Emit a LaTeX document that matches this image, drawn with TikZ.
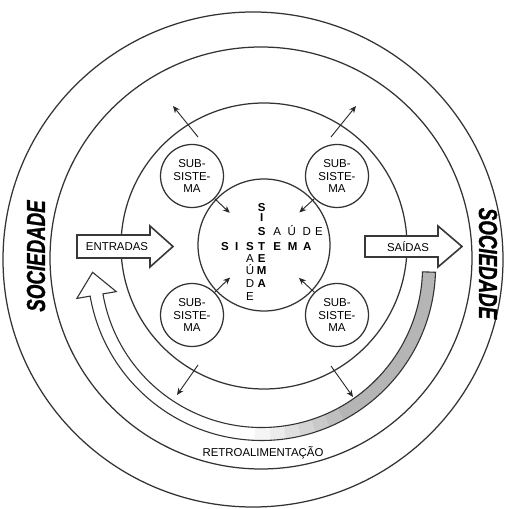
\documentclass[tikz,border=0pt]{standalone}
\usepackage{fontspec}
\usepackage{graphicx}
\setmainfont{Liberation Sans}
\newfontfamily\socfont[BoldItalicFeatures={FakeBold=1.2}]{Liberation Sans}
\usetikzlibrary{arrows.meta,calc}
\begin{document}
\begin{tikzpicture}[x=1pt,y=1pt,
  ring/.style={draw=black!80, line width=1.25pt},
  sub/.style={circle, draw=black!80, line width=1.25pt, fill=white, minimum size=63pt, inner sep=0pt, align=center, font=\fontsize{11.5}{12.5}\selectfont},
  core/.style={circle, draw=black!80, line width=1.25pt, minimum size=132pt, inner sep=0pt},
  arr/.style={draw=black!85, line width=0.9pt, -{Stealth[length=7pt,width=6pt]}},
  big/.style={draw=black!78, line width=1.6pt, fill=white, line join=miter},
  band/.style={draw=black!80, line width=1.1pt, line join=miter},
  lbl/.style={font=\fontsize{11.4}{13}\selectfont, inner sep=0pt},
  bl/.style={font=\fontsize{11.5}{12}\selectfont\bfseries, inner sep=0pt, text height=8.3pt, text depth=0pt},
  rl/.style={font=\fontsize{11.5}{12}\selectfont, inner sep=0pt, text height=8.3pt, text depth=0pt},
  soc/.style={inner sep=0pt, font=\fontsize{26}{26}\socfont\bfseries\itshape}
]
\useasboundingbox (0,0) rectangle (507,509);
\fill[white] (0,0) rectangle (507,509);

% rings
\draw[ring] (253,249.5) ellipse [x radius=250, y radius=247.5];
\draw[ring] (261,251) circle [radius=211];
\draw[ring] (264,263) circle [radius=143];

% feedback band
\begin{scope}[shift={(261.6,242.5)}]
  \fill[gray!58] (-1.9:161) arc[start angle=-1.9,end angle=-62,radius=161] -- (-62:174) arc[start angle=-62,end angle=-1.9,radius=174] -- cycle;
  \foreach \angA/\gv in {-62/50,-67/42,-72/34,-77/25,-82/16,-87/8}{
    \pgfmathsetmacro\angB{\angA-5.4}
    \fill[gray!\gv] (\angA:161) arc[start angle=\angA,end angle=\angB,radius=161] -- (\angB:174) arc[start angle=\angB,end angle=\angA,radius=174] -- cycle;
  }
  \draw[band] (-1.9:174) arc[start angle=-1.9,end angle=-170.2,radius=174]
     -- (-170.2:187.5) -- (-169,-5.8) -- (-170.2:147.5) -- (-170.2:161)
     arc[start angle=-170.2,end angle=-1.9,radius=161] -- cycle;
\end{scope}
\node[lbl] (retro) at (263,56) {RETROALIMENTAÇÃO};

% core system
\node[core] (sys) at (264,264) {};

% subsystems
\node[sub] (s1) at (192,333) {SUB-\\SISTE-\\MA};
\node[sub] (s2) at (337,333) {SUB-\\SISTE-\\MA};
\node[sub] (s3) at (192,194) {SUB-\\SISTE-\\MA};
\node[sub] (s4) at (337,194) {SUB-\\SISTE-\\MA};

% inner arrows
\draw[arr, shorten >=47pt] (s1.-45) -- (sys.center);
\draw[arr, shorten >=48pt] (s2.-135) -- (sys.center);
\draw[arr, shorten >=47pt] (s3.45) -- (sys.center);
\draw[arr, shorten >=48pt] (s4.135) -- (sys.center);

% outer arrows
\coordinate (o1a) at (198,372); \coordinate (o1b) at (173,403);
\coordinate (o2a) at (331,372); \coordinate (o2b) at (356,403);
\coordinate (o3a) at (198,144); \coordinate (o3b) at (177,114);
\coordinate (o4a) at (331,143); \coordinate (o4b) at (353,112);
\draw[arr] (o1a) -- (o1b);
\draw[arr] (o2a) -- (o2b);
\draw[arr] (o3a) -- (o3b);
\draw[arr] (o4a) -- (o4b);

% input / output arrows
\draw[big] (77,251) -- (150,251) -- (150,242) -- (173,262.5) -- (150,283) -- (150,274) -- (77,274) -- cycle;
\node[lbl] (entradas) at (117,262.5) {ENTRADAS};
\draw[big] (365,252) -- (438,252) -- (438,242) -- (462,262.5) -- (438,283) -- (438,273) -- (365,273) -- cycle;
\node[lbl] (saidas) at (408,262.5) {SAÍDAS};

% SISTEMA / SAUDE letters
\node[bl] (h1) at (225,263) {S};
\node[bl] (h2) at (236.7,263) {I};
\node[bl] (h3) at (250,263) {S};
\node[bl] (h4) at (261.7,263) {T};
\node[bl] (h5) at (277.3,263) {E};
\node[bl] (h6) at (292.7,263) {M};
\node[bl] (h7) at (307.3,263) {A};
\node[bl] (v1) at (261.7,301.7) {S};
\node[bl] (v2) at (261.7,291.7) {I};
\node[bl] (v3) at (261.7,277.3) {S};
\node[bl] (v5) at (261.7,250.7) {E};
\node[bl] (v6) at (261.7,239) {M};
\node[bl] (v7) at (261.7,225.7) {A};
\node[rl] (sa2) at (277.3,277.3) {A};
\node[rl] (sa3) at (291.7,277.3) {Ú};
\node[rl] (sa4) at (306.7,277.3) {D};
\node[rl] (sa5) at (319,277.3) {E};
\node[rl] (sv2) at (250,250.7) {A};
\node[rl] (sv3) at (250,239) {Ú};
\node[rl] (sv4) at (250,225.7) {D};
\node[rl] (sv5) at (250,213) {E};

% society labels
\node[soc, rotate=90] (socL) at (36,253) {\scalebox{0.72}[1]{SOCIEDADE}};
\node[soc, rotate=-90] (socR) at (488,245.5) {\scalebox{0.72}[1]{SOCIEDADE}};
\end{tikzpicture}
\end{document}
